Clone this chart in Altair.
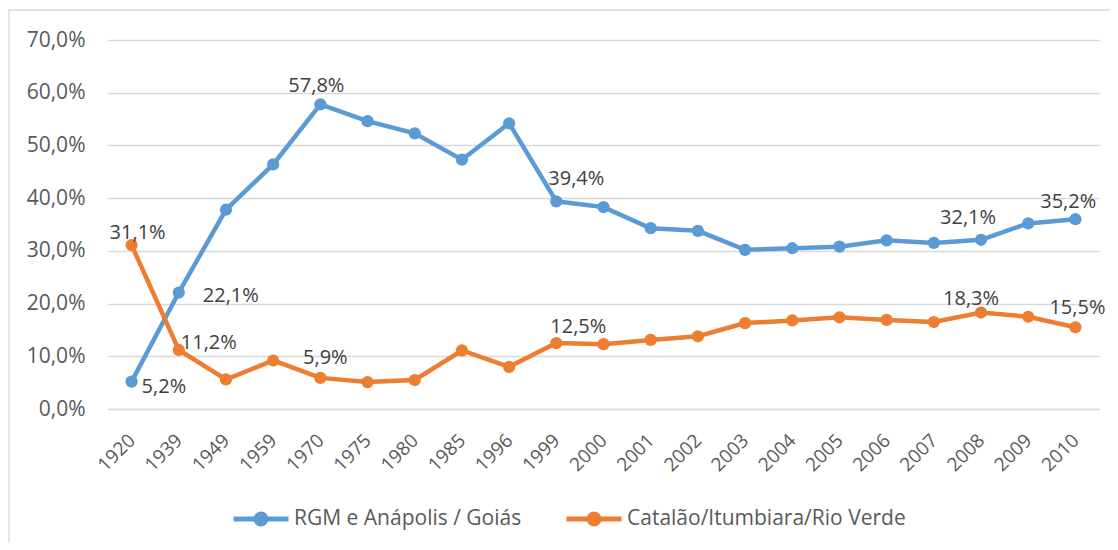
import altair as alt
import pandas as pd

years = ["1920", "1939", "1949", "1959", "1970", "1975", "1980", "1985", "1996", "1999",
         "2000", "2001", "2002", "2003", "2004", "2005", "2006", "2007", "2008", "2009", "2010"]
series_names = ["RGM e Anápolis / Goiás", "Catalão/Itumbiara/Rio Verde"]
blue_vals = [5.2, 22.1, 37.8, 46.4, 57.8, 54.6, 52.3, 47.3, 54.2, 39.4,
             38.3, 34.3, 33.8, 30.2, 30.5, 30.8, 32.0, 31.5, 32.1, 35.2, 36.0]
orange_vals = [31.1, 11.2, 5.6, 9.2, 5.9, 5.1, 5.5, 11.1, 8.0, 12.5,
               12.3, 13.1, 13.8, 16.3, 16.8, 17.4, 16.9, 16.5, 18.3, 17.5, 15.5]
y_ticks = [0, 10, 20, 30, 40, 50, 60, 70]
colors = ["#5B9BD5", "#ED7D31"]

rows = []
for name, vals in zip(series_names, [blue_vals, orange_vals]):
    for yr, v in zip(years, vals):
        rows.append({"year": yr, "series": name, "v": v})
df = pd.DataFrame(rows)

FONT = "Open Sans"
S1, S2 = series_names

base = alt.Chart(df).transform_calculate(
    lbl="replace(format(datum.v / 100, '.1%'), '.', ',')"
)

x = alt.X(
    "year:O", sort=years,
    scale=alt.Scale(type="point", padding=0.5),
    axis=alt.Axis(title=None, labelAngle=-45, labelAlign="right", labelBaseline="middle",
                  labelFontSize=19, labelFont=FONT, labelColor="#595959",
                  ticks=False, tickSize=0, labelPadding=28, grid=False,
                  domainColor="#D9D9D9", domainWidth=1.3),
)
y = alt.Y(
    "v:Q",
    scale=alt.Scale(domain=[0, 70], nice=False),
    axis=alt.Axis(title=None, values=y_ticks,
                  labelExpr="replace(format(datum.value / 100, '.1%'), '.', ',')",
                  labelFontSize=21, labelFont=FONT, labelColor="#595959",
                  ticks=False, tickSize=0, labelPadding=23, domain=False,
                  grid=True, gridColor="#D9D9D9", gridWidth=1.3),
)
color = alt.Color(
    "series:N",
    scale=alt.Scale(domain=series_names, range=colors),
    legend=alt.Legend(
        title=None, orient="none", direction="horizontal", legendX=123, legendY=449,
        padding=0,
        symbolType="M-1,0L1,0M-0.18,0A0.18,0.18,0,1,1,0.18,0A0.18,0.18,0,1,1,-0.18,0",
        symbolSize=3025, symbolStrokeWidth=5,
        labelFont=FONT, labelFontSize=21, labelColor="#595959", labelLimit=0,
        labelOffset=3, columnPadding=34,
    ),
)

frame = alt.Chart(alt.Data(values=[{"a": 1}])).mark_rect(
    fillOpacity=0, stroke="#D9D9D9", strokeWidth=1.3
).encode(x=alt.value(-99), x2=alt.value(1400), y=alt.value(-30), y2=alt.value(900))

lines = base.mark_line(strokeWidth=4.5).encode(x=x, y=y, color=color)
points = base.mark_point(filled=True, size=150, opacity=1).encode(x=x, y=y, color=color)

placements = [
    (S1, "1920", 10, 5, "left"),
    (S1, "1939", 24, 3, "left"),
    (S1, "1970", -4, -18, "center"),
    (S1, "1999", 20, -22, "center"),
    (S1, "2008", -13, -22, "center"),
    (S1, "2009", 40, -21, "center"),
    (S2, "1920", 6, -12, "center"),
    (S2, "1939", 2, -7, "left"),
    (S2, "1970", 5, -20, "center"),
    (S2, "1999", 22, -16, "center"),
    (S2, "2008", -10, -14, "center"),
    (S2, "2010", 2, -19, "center"),
]
label_layers = []
for s, yr, dx, dy, al in placements:
    label_layers.append(
        base.transform_filter(f"datum.series == '{s}' && datum.year == '{yr}'")
        .mark_text(dx=dx, dy=dy, align=al, baseline="middle", font=FONT,
                   fontSize=20, color="#404040")
        .encode(x=x, y=y, text="lbl:N")
    )

chart = alt.layer(frame, lines, points, *label_layers).properties(
    width=991, height=369,
    padding={"left": 100, "top": 32, "right": 11, "bottom": 133},
    autosize=alt.AutoSizeParams(type="none"),
).configure_view(stroke=None)

chart.save("out.html", embed_options={"renderer": "svg", "actions": False})
